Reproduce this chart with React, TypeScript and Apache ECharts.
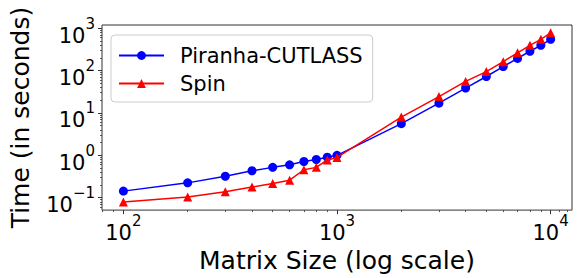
import React, { useEffect, useRef } from "react";
import * as echarts from "echarts";

const sizes = [100, 200, 300, 400, 500, 600, 700, 800, 900, 1000, 2000, 3000, 4000, 5000, 6000, 7000, 8000, 9000, 10000];
const piranhaTimes = [0.143, 0.224, 0.321, 0.433, 0.52, 0.597, 0.716, 0.797, 0.903, 1.0, 5.6, 17.0, 38.6, 72.4, 124, 194, 286, 395, 546];
const spinTimes = [0.079, 0.104, 0.138, 0.178, 0.216, 0.259, 0.457, 0.52, 0.78, 0.89, 8.0, 24.3, 55.5, 94.8, 162, 263, 395, 546, 781];

const xMajorTicks = [100, 1000, 10000];
const xMinorTicks = [80, 90, 200, 300, 400, 500, 600, 700, 800, 900, 2000, 3000, 4000, 5000, 6000, 7000, 8000, 9000, 11000, 12000];
const yMajorTicks = [0.1, 1, 10, 100, 1000];
const yMinorTicks = [0.06, 0.07, 0.08, 0.09, 0.2, 0.3, 0.4, 0.5, 0.6, 0.7, 0.8, 0.9, 2, 3, 4, 5, 6, 7, 8, 9, 20, 30, 40, 50, 60, 70, 80, 90, 200, 300, 400, 500, 600, 700, 800, 900];

const X_MIN = 79.43;
const X_MAX = 12589;
const Y_MIN = 0.051;
const Y_MAX = 1190;

const FONT = "DejaVu Sans";
const AX = "#333";

const powLabel = (v: number) => {
  const e = Math.round(Math.log10(v));
  const s = e < 0 ? "\u2212" + Math.abs(e) : String(e);
  return `{b|10}{s|${s}}`;
};

const rich = {
  b: { fontSize: 21, fontFamily: FONT, color: "#000", lineHeight: 30, verticalAlign: "bottom" },
  s: { fontSize: 15, fontFamily: FONT, color: "#000", lineHeight: 15, verticalAlign: "top" },
};

export default function App() {
  const ref = useRef<HTMLDivElement>(null);
  useEffect(() => {
    if (!ref.current) return;
    const chart = echarts.init(ref.current, undefined, { renderer: "svg" });
    chart.setOption({
      animation: false,
      backgroundColor: "#fff",
      grid: {
        left: 100,
        right: 9,
        top: 25,
        bottom: 65.5,
        show: true,
        borderColor: AX,
        borderWidth: 1,
        backgroundColor: "transparent",
      },
      legend: {
        orient: "vertical",
        left: 111,
        top: 35,
        padding: [10, 10, 8, 7],
        itemGap: 7,
        itemWidth: 45,
        itemHeight: 11,
        borderColor: "#cccccc",
        borderWidth: 1,
        borderRadius: 4,
        backgroundColor: "rgba(255,255,255,0.8)",
        textStyle: { fontSize: 21, fontFamily: FONT, color: "#000", padding: [0, 0, 0, 11] },
        data: ["Piranha-CUTLASS", "Spin"],
      },
      xAxis: [
        {
          type: "log",
          min: X_MIN,
          max: X_MAX,
          position: "bottom",
          name: "Matrix Size (log scale)",
          nameLocation: "middle",
          nameGap: 29,
          nameTextStyle: { fontSize: 25, fontFamily: FONT, color: "#000" },
          axisLine: { show: false },
          splitLine: { show: false },
          axisTick: { show: true, inside: false, length: 4, customValues: xMajorTicks, lineStyle: { color: AX, width: 1 } },
          axisLabel: { show: true, margin: 3, customValues: xMajorTicks, formatter: powLabel, rich },
        },
        {
          type: "log",
          min: X_MIN,
          max: X_MAX,
          position: "bottom",
          axisLine: { show: false },
          splitLine: { show: false },
          axisLabel: { show: false },
          axisTick: { show: true, inside: false, length: 2, customValues: xMinorTicks, lineStyle: { color: AX, width: 0.8 } },
        },
      ],
      yAxis: [
        {
          type: "log",
          min: Y_MIN,
          max: Y_MAX,
          position: "left",
          name: "Time (in seconds)",
          nameLocation: "middle",
          nameGap: 69,
          nameTextStyle: { fontSize: 25, fontFamily: FONT, color: "#000" },
          axisLine: { show: false },
          splitLine: { show: false },
          axisTick: { show: true, inside: false, length: 4, customValues: yMajorTicks, lineStyle: { color: AX, width: 1 } },
          axisLabel: { show: true, margin: 7, padding: [6, 0, 0, 0], customValues: yMajorTicks, formatter: powLabel, rich },
        },
        {
          type: "log",
          min: Y_MIN,
          max: Y_MAX,
          position: "left",
          axisLine: { show: false },
          splitLine: { show: false },
          axisLabel: { show: false },
          axisTick: { show: true, inside: false, length: 2, customValues: yMinorTicks, lineStyle: { color: AX, width: 0.8 } },
        },
      ],
      series: [
        {
          name: "Piranha-CUTLASS",
          type: "line",
          xAxisIndex: 0,
          yAxisIndex: 0,
          data: sizes.map((s, i) => [s, piranhaTimes[i]]),
          symbol: "circle",
          symbolSize: 9,
          color: "#0000ff",
          lineStyle: { color: "#0000ff", width: 1.5 },
          itemStyle: { color: "#0000ff" },
          z: 2,
        },
        {
          name: "Spin",
          type: "line",
          xAxisIndex: 0,
          yAxisIndex: 0,
          data: sizes.map((s, i) => [s, spinTimes[i]]),
          symbol: "triangle",
          symbolSize: 9,
          color: "#ff0000",
          lineStyle: { color: "#ff0000", width: 1.5 },
          itemStyle: { color: "#ff0000" },
          z: 3,
        },
      ],
    });
    return () => chart.dispose();
  }, []);
  return <div ref={ref} style={{ position: "fixed", left: 0, top: 0, width: 581, height: 278 }} />;
}
